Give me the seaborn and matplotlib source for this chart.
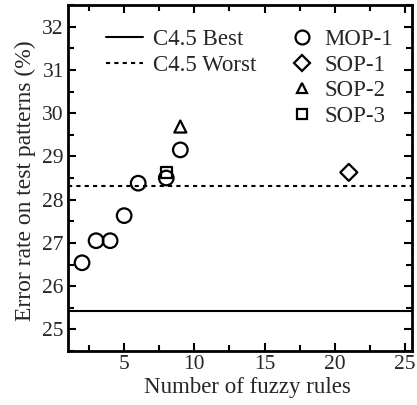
import matplotlib
matplotlib.use("Agg")
import matplotlib.pyplot as plt
import seaborn as sns
import pandas as pd
from matplotlib.ticker import MultipleLocator
from matplotlib.lines import Line2D

sns.set_style("ticks")
plt.rcParams["font.family"] = ["Liberation Serif", "DejaVu Serif"]

# Results for each method: number of rules vs. test error rate
mop1_rules = [2, 3, 4, 5, 6, 8, 9]
mop1_error = [26.54, 27.05, 27.05, 27.63, 28.38, 28.5, 29.15]
sop1_rules = [21]
sop1_error = [28.63]
sop2_rules = [9]
sop2_error = [29.69]
sop3_rules = [8]
sop3_error = [28.62]

c45_best = 25.42
c45_worst = 28.31

methods = ["MOP-1", "SOP-1", "SOP-2", "SOP-3"]
df = pd.concat([
    pd.DataFrame({"rules": r, "error": e, "method": m})
    for r, e, m in [(mop1_rules, mop1_error, "MOP-1"),
                    (sop1_rules, sop1_error, "SOP-1"),
                    (sop2_rules, sop2_error, "SOP-2"),
                    (sop3_rules, sop3_error, "SOP-3")]
], ignore_index=True)

markers = {"MOP-1": "o", "SOP-1": "D", "SOP-2": "^", "SOP-3": "s"}
sizes = {"MOP-1": 110, "SOP-1": 75, "SOP-2": 75, "SOP-3": 65}

W, H = 417, 405
fig = plt.figure(figsize=(W / 100, H / 100), dpi=100)
ax = fig.add_axes([68 / W, 1 - 351 / H, (412 - 68) / W, (351 - 5) / H])

ax.axhline(c45_best, color="black", lw=1.5, ls="-", zorder=1)
ax.axhline(c45_worst, color="black", lw=1.5, ls=(0, (2, 2)), zorder=1)

for m in methods:
    sub = df[df["method"] == m]
    sns.scatterplot(data=sub, x="rules", y="error", marker=markers[m],
                    s=sizes[m], facecolor="none", edgecolor="black",
                    linewidth=1.6, ax=ax, legend=False, zorder=3)

ax.set_xlim(1, 25.5)
ax.set_ylim(24.5, 32.5)
ax.xaxis.set_major_locator(MultipleLocator(5))
ax.xaxis.set_minor_locator(MultipleLocator(2.5))
ax.yaxis.set_major_locator(MultipleLocator(1))
ax.yaxis.set_minor_locator(MultipleLocator(0.5))
ax.tick_params(which="both", direction="in", top=True, right=True,
               labelsize=15.5, width=1.5, color="black", pad=3)
ax.tick_params(which="major", length=6)
ax.tick_params(which="minor", length=4)
for sp in ax.spines.values():
    sp.set_linewidth(2)
    sp.set_color("black")

ax.set_xlabel("Number of fuzzy rules", fontsize=16.5, labelpad=0)
ax.set_ylabel("Error rate on test patterns (%)", fontsize=17)
ax.xaxis.set_label_coords((247 - 68) / 344, -0.075)
ax.yaxis.set_label_coords(-(68 - 36) / 344, (351 - 181) / 346)

fs = 16.5
top_anchor = 1 - (29 - 5) / 346
line_handles = [Line2D([], [], color="black", lw=1.5, ls="-"),
                Line2D([], [], color="black", lw=1.5, ls=(0, (2, 2)))]
leg1 = ax.legend(line_handles, ["C4.5 Best", "C4.5 Worst"], loc="upper left",
                 bbox_to_anchor=((115 - 68) / 344 - 0.025, top_anchor),
                 frameon=False, fontsize=fs, handlelength=1.6,
                 handletextpad=0.45, labelspacing=0.2, borderaxespad=0,
                 borderpad=0)
ax.add_artist(leg1)

mk_handles = [Line2D([], [], ls="none", marker=markers[m], markersize=ms,
                     markerfacecolor="none", markeredgecolor="black",
                     markeredgewidth=1.6)
              for m, ms in zip(methods, [10, 8, 7.5, 7])]
ax.legend(mk_handles, methods, loc="upper left",
          bbox_to_anchor=((292 - 68) / 344, top_anchor),
          frameon=False, fontsize=fs, handlelength=0.9, handletextpad=0.5,
          labelspacing=0.2, borderaxespad=0, borderpad=0)

fig.savefig("out.png", dpi=100)
